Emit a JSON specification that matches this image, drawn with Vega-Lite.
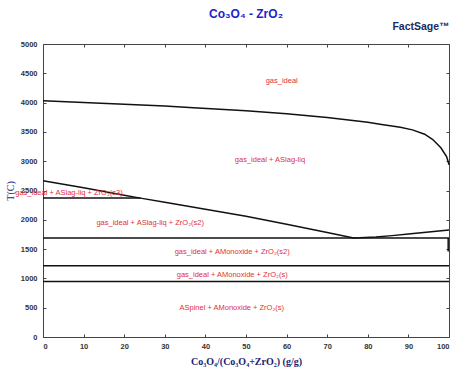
{
  "$schema": "https://vega.github.io/schema/vega-lite/v6.json",
  "width": 406,
  "height": 293,
  "autosize": "none",
  "padding": {"left": 43, "top": 44, "right": 25, "bottom": 38},
  "background": "white",
  "config": {
    "view": {"stroke": "#444", "strokeWidth": 1},
    "axis": {"grid": false, "domain": false, "tickColor": "#444", "tickSize": -3, "labelFont": "Liberation Sans", "labelFontSize": 7.5, "labelColor": "#333", "labelFontWeight": "bold", "format": "d"}
  },
  "datasets": {
    "lines": [
      {"s": "top", "o": 0, "x": 0, "t": 4030},
      {"s": "top", "o": 1, "x": 10, "t": 4002},
      {"s": "top", "o": 2, "x": 20, "t": 3972},
      {"s": "top", "o": 3, "x": 30, "t": 3940},
      {"s": "top", "o": 4, "x": 36, "t": 3915},
      {"s": "top", "o": 5, "x": 50, "t": 3862},
      {"s": "top", "o": 6, "x": 60, "t": 3810},
      {"s": "top", "o": 7, "x": 70, "t": 3745},
      {"s": "top", "o": 8, "x": 80, "t": 3665},
      {"s": "top", "o": 9, "x": 83, "t": 3632},
      {"s": "top", "o": 10, "x": 88, "t": 3580},
      {"s": "top", "o": 11, "x": 91, "t": 3535},
      {"s": "top", "o": 12, "x": 94, "t": 3460},
      {"s": "top", "o": 13, "x": 96, "t": 3370},
      {"s": "top", "o": 14, "x": 98, "t": 3230},
      {"s": "top", "o": 15, "x": 99.4, "t": 3080},
      {"s": "top", "o": 16, "x": 99.8, "t": 2990},
      {"s": "top", "o": 17, "x": 100, "t": 2940},
      {"s": "liq", "o": 0, "x": 0, "t": 2665},
      {"s": "liq", "o": 1, "x": 10, "t": 2545},
      {"s": "liq", "o": 2, "x": 20, "t": 2420},
      {"s": "liq", "o": 3, "x": 24, "t": 2370},
      {"s": "liq", "o": 4, "x": 30, "t": 2300},
      {"s": "liq", "o": 5, "x": 40, "t": 2180},
      {"s": "liq", "o": 6, "x": 50, "t": 2060},
      {"s": "liq", "o": 7, "x": 60, "t": 1925},
      {"s": "liq", "o": 8, "x": 70, "t": 1785},
      {"s": "liq", "o": 9, "x": 76.5, "t": 1690},
      {"s": "liq", "o": 10, "x": 78, "t": 1692},
      {"s": "liq", "o": 11, "x": 82, "t": 1705},
      {"s": "liq", "o": 12, "x": 86, "t": 1730},
      {"s": "liq", "o": 13, "x": 90, "t": 1757},
      {"s": "liq", "o": 14, "x": 95, "t": 1790},
      {"s": "liq", "o": 15, "x": 100, "t": 1826},
      {"s": "s3", "o": 0, "x": 0, "t": 2370},
      {"s": "s3", "o": 1, "x": 24, "t": 2370},
      {"s": "eut", "o": 0, "x": 0, "t": 1688},
      {"s": "eut", "o": 1, "x": 100, "t": 1688},
      {"s": "vert", "o": 0, "x": 99.8, "t": 1688},
      {"s": "vert", "o": 1, "x": 99.8, "t": 1460},
      {"s": "h1210", "o": 0, "x": 0, "t": 1215},
      {"s": "h1210", "o": 1, "x": 100, "t": 1215},
      {"s": "h950", "o": 0, "x": 0, "t": 945},
      {"s": "h950", "o": 1, "x": 100, "t": 945}
    ],
    "labels": [
      {"x": 58.8, "t": 4370, "label": "gas_ideal"},
      {"x": 55.9, "t": 3020, "label": "gas_ideal + ASlag-liq"},
      {"x": 6.4, "t": 2462, "label": "gas_ideal + ASlag-liq + ZrO₂(s3)"},
      {"x": 26.4, "t": 1945, "label": "gas_ideal + ASlag-liq + ZrO₂(s2)"},
      {"x": 46.6, "t": 1456, "label": "gas_ideal + AMonoxide + ZrO₂(s2)"},
      {"x": 46.6, "t": 1058, "label": "gas_ideal + AMonoxide + ZrO₂(s)"},
      {"x": 46.5, "t": 500, "label": "ASpinel + AMonoxide + ZrO₂(s)"}
    ],
    "logo": [{"x": 100, "t": 5000, "label": "FactSage™"}],
    "ttl": [{"x": 50, "t": 5000, "label": "Co₃O₄ - ZrO₂"}]
  },
  "resolve": {"axis": {"x": "independent", "y": "independent"}},
  "layer": [
    {
      "data": {"name": "lines"},
      "mark": {"type": "line", "color": "#111", "strokeWidth": 1.5, "clip": false},
      "encoding": {
        "x": {"field": "x", "type": "quantitative", "scale": {"domain": [0, 100], "nice": false, "zero": false},
              "axis": {"orient": "bottom", "values": [0,10,20,30,40,50,60,70,80,90,100], "labelPadding": 8,
                       "title": "Co₃O₄/(Co₃O₄+ZrO₂) (g/g)", "titleFont": "Liberation Serif", "titleFontSize": 10, "titleFontWeight": "bold", "titleColor": "#1c1c72", "titlePadding": 7}},
        "y": {"field": "t", "type": "quantitative", "scale": {"domain": [0, 5000], "nice": false, "zero": false},
              "axis": {"orient": "left", "values": [0,500,1000,1500,2000,2500,3000,3500,4000,4500,5000], "labelPadding": 9,
                       "title": "T(C)", "titleFont": "Liberation Serif", "titleFontSize": 10, "titleFontWeight": "normal", "titleColor": "#1c1c72", "titlePadding": 5}},
        "detail": {"field": "s"},
        "order": {"field": "o", "type": "quantitative"}
      }
    },
    {
      "data": {"name": "labels"},
      "mark": {"type": "text", "color": "#e0303c", "font": "Liberation Sans", "fontSize": 7.5, "align": "center", "baseline": "middle"},
      "encoding": {
        "x": {"field": "x", "type": "quantitative", "axis": {"orient": "top", "values": [0,10,20,30,40,50,60,70,80,90,100], "labels": false, "title": null}},
        "y": {"field": "t", "type": "quantitative", "axis": {"orient": "right", "values": [0,500,1000,1500,2000,2500,3000,3500,4000,4500,5000], "labels": false, "title": null}},
        "text": {"field": "label"}
      }
    },
    {
      "data": {"name": "logo"},
      "mark": {"type": "text", "color": "#1b2a5e", "font": "Liberation Sans", "fontSize": 10.5, "fontWeight": "bold", "align": "center", "baseline": "middle", "dx": -28, "dy": -17},
      "encoding": {
        "x": {"field": "x", "type": "quantitative", "axis": null},
        "y": {"field": "t", "type": "quantitative", "axis": null},
        "text": {"field": "label"}
      }
    },
    {
      "data": {"name": "ttl"},
      "mark": {"type": "text", "color": "#2323c8", "font": "Liberation Sans", "fontSize": 12, "fontWeight": "bold", "align": "center", "baseline": "middle", "dy": -30},
      "encoding": {
        "x": {"field": "x", "type": "quantitative", "axis": null},
        "y": {"field": "t", "type": "quantitative", "axis": null},
        "text": {"field": "label"}
      }
    }
  ]
}
